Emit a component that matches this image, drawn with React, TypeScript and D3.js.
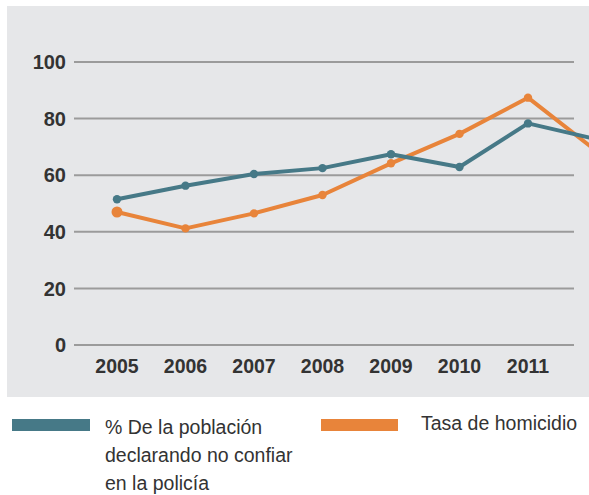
import React, { useEffect, useRef } from "react";
import * as d3 from "d3";

const years = [2005, 2006, 2007, 2008, 2009, 2010, 2011, 2012];
const yearLabels = ["2005", "2006", "2007", "2008", "2009", "2010", "2011"];
const desconfianza = [51.5, 56.3, 60.4, 62.5, 67.4, 62.9, 78.3, 72.7];
const homicidio = [47, 41.2, 46.5, 53, 64.2, 74.6, 87.4, 68.5];
const yTicks = [0, 20, 40, 60, 80, 100];

const TEAL = "#467987";
const ORANGE = "#e8843a";

export default function App() {
  const ref = useRef<SVGSVGElement>(null);

  useEffect(() => {
    const svg = d3.select(ref.current);
    svg.selectAll("*").remove();

    const width = 589;
    const height = 495;

    const x = d3.scaleLinear().domain([2005, 2011]).range([117, 528]);
    const y = d3.scaleLinear().domain([0, 100]).range([345, 62]);

    // panel de fondo
    svg
      .append("rect")
      .attr("x", 7)
      .attr("y", 6)
      .attr("width", width - 7)
      .attr("height", 391)
      .attr("fill", "#e6e7e9");

    // rejilla
    const grid = svg.append("g");
    grid
      .selectAll("line")
      .data(yTicks)
      .join("line")
      .attr("x1", 74)
      .attr("x2", 574)
      .attr("y1", (d) => y(d))
      .attr("y2", (d) => y(d))
      .attr("stroke", "#9b9b9b")
      .attr("stroke-width", 2);

    grid
      .selectAll("text")
      .data(yTicks)
      .join("text")
      .attr("x", 66)
      .attr("y", (d) => y(d))
      .attr("dy", "0.36em")
      .attr("text-anchor", "end")
      .attr("font-family", "Liberation Sans, Arial, sans-serif")
      .attr("font-weight", "bold")
      .attr("font-size", 20)
      .attr("fill", "#333")
      .text((d) => d);

    svg
      .append("g")
      .selectAll("text")
      .data(yearLabels)
      .join("text")
      .attr("x", (d) => x(+d))
      .attr("y", 373)
      .attr("text-anchor", "middle")
      .attr("font-family", "Liberation Sans, Arial, sans-serif")
      .attr("font-weight", "bold")
      .attr("font-size", 19.5)
      .attr("fill", "#333")
      .text((d) => d);

    const line = d3
      .line<number>()
      .x((_, i) => x(years[i]))
      .y((d) => y(d));

    const series = [
      { values: homicidio, color: ORANGE },
      { values: desconfianza, color: TEAL },
    ];

    series.forEach((s) => {
      svg
        .append("path")
        .datum(s.values)
        .attr("fill", "none")
        .attr("stroke", s.color)
        .attr("stroke-width", 4)
        .attr("stroke-linejoin", "round")
        .attr("d", line);

      svg
        .append("g")
        .selectAll("circle")
        .data(s.values.slice(0, 7))
        .join("circle")
        .attr("cx", (_, i) => x(years[i]))
        .attr("cy", (d) => y(d))
        .attr("r", (_, i) => (s.color === ORANGE && i === 0 ? 5.5 : 4.2))
        .attr("fill", s.color);
    });

    // leyenda
    const legend = svg
      .append("g")
      .attr("font-family", "Liberation Sans, Arial, sans-serif")
      .attr("font-size", 19.5)
      .attr("fill", "#333");

    legend
      .append("rect")
      .attr("x", 12)
      .attr("y", 419)
      .attr("width", 78)
      .attr("height", 12)
      .attr("fill", TEAL);

    const t = legend.append("text").attr("x", 105).attr("y", 434);
    ["% De la población", "declarando no confiar", "en la policía"].forEach(
      (s, i) => {
        t.append("tspan")
          .attr("x", 105)
          .attr("dy", i === 0 ? 0 : 28)
          .text(s);
      }
    );

    legend
      .append("rect")
      .attr("x", 321)
      .attr("y", 419)
      .attr("width", 77)
      .attr("height", 12)
      .attr("fill", ORANGE);

    legend
      .append("text")
      .attr("x", 421)
      .attr("y", 430)
      .text("Tasa de homicidio");
  }, []);

  return (
    <svg
      ref={ref}
      width={589}
      height={495}
      style={{ position: "absolute", left: 0, top: 0, background: "#fff" }}
    />
  );
}
